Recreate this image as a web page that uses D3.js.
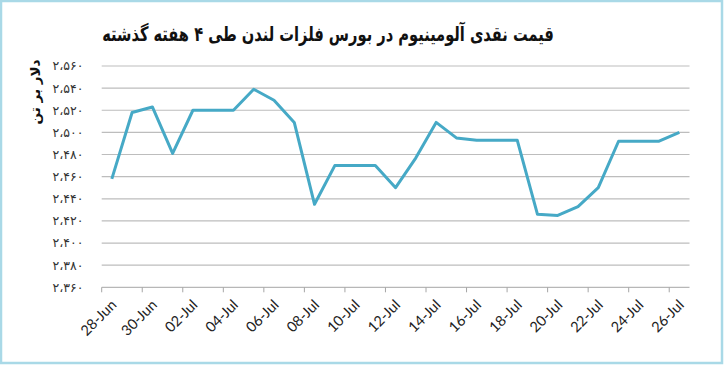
<!DOCTYPE html>
<html>
<head>
<meta charset="utf-8">
<script src="https://cdn.jsdelivr.net/npm/d3@7/dist/d3.min.js"></script>
<style>
  html, body { margin: 0; padding: 0; background: #fff; }
  svg { display: block; }
</style>
</head>
<body>
<svg id="chart" width="724" height="365"></svg>
<script>
// ---- data ----
const categories = [
  "28-Jun","29-Jun","30-Jun","01-Jul","02-Jul","03-Jul","04-Jul","05-Jul","06-Jul","07-Jul",
  "08-Jul","09-Jul","10-Jul","11-Jul","12-Jul","13-Jul","14-Jul","15-Jul","16-Jul","17-Jul",
  "18-Jul","19-Jul","20-Jul","21-Jul","22-Jul","23-Jul","24-Jul","25-Jul","26-Jul"
];
const prices = [
  2458, 2518, 2523, 2481, 2520, 2520, 2520, 2539, 2529, 2509,
  2435, 2470, 2470, 2470, 2450, 2477, 2509, 2495, 2493, 2493,
  2493, 2426, 2425, 2433, 2450, 2492, 2492, 2492, 2500
];
const yTickValues = [2360, 2380, 2400, 2420, 2440, 2460, 2480, 2500, 2520, 2540, 2560];
const yTickLabels = ["۲،۳۶۰","۲،۳۸۰","۲،۴۰۰","۲،۴۲۰","۲،۴۴۰","۲،۴۶۰","۲،۴۸۰","۲،۵۰۰","۲،۵۲۰","۲،۵۴۰","۲،۵۶۰"];
const titleText = "قیمت نقدی آلومینیوم در بورس فلزات لندن طی ۴ هفته گذشته";
const yTitleText = "دلار بر تن";

// ---- layout ----
const W = 724, H = 365;
const plotLeft = 101.7, plotRight = 689.5, plotTop = 66, plotBottom = 287.3;
const svg = d3.select("#chart");

// border
svg.append("rect")
  .attr("x", 1).attr("y", 1).attr("width", W - 3).attr("height", H - 3)
  .attr("fill", "#fff").attr("stroke", "#a9d9e7").attr("stroke-width", 2.5);

const x = d3.scaleBand().domain(categories).range([plotLeft, plotRight]).padding(0);
const y = d3.scaleLinear().domain([2360, 2560]).range([plotBottom, plotTop]);

// gridlines
svg.append("g").selectAll("line")
  .data(yTickValues.filter(v => v !== 2360))
  .join("line")
  .attr("x1", plotLeft).attr("x2", plotRight)
  .attr("y1", d => y(d)).attr("y2", d => y(d))
  .attr("stroke", "#bdbdbd").attr("stroke-width", 1.2);

// y tick labels
svg.append("g").selectAll("text")
  .data(yTickValues)
  .join("text")
  .attr("x", 83.5).attr("y", d => y(d))
  .attr("dy", "0.35em")
  .attr("text-anchor", "end")
  .attr("font-family", "DejaVu Sans, sans-serif")
  .attr("font-size", 12.5)
  .attr("fill", "#333")
  .style("direction", "ltr")
  .text((d, i) => yTickLabels[i]);

// x axis line + ticks
svg.append("line")
  .attr("x1", plotLeft).attr("x2", plotRight)
  .attr("y1", y(2360)).attr("y2", y(2360))
  .attr("stroke", "#a6a6a6").attr("stroke-width", 1);

const tickCats = categories.filter((c, i) => i % 2 === 0);
svg.append("g").selectAll("line")
  .data(tickCats)
  .join("line")
  .attr("x1", d => x(d)).attr("x2", d => x(d))
  .attr("y1", y(2360)).attr("y2", y(2360) + 5)
  .attr("stroke", "#a6a6a6").attr("stroke-width", 1);

// x labels
svg.append("g").selectAll("text")
  .data(tickCats)
  .join("text")
  .attr("transform", d => `translate(${x(d) + x.bandwidth() / 2 + 2},${y(2360) + 15}) rotate(-45)`)
  .attr("text-anchor", "end")
  .attr("dy", "0.35em")
  .attr("font-family", "Lato, sans-serif")
  .attr("font-size", 14.5)
  .attr("fill", "#222")
  .text(d => d);

// line
const line = d3.line()
  .x((d, i) => x(categories[i]) + x.bandwidth() / 2)
  .y(d => y(d));
svg.append("path")
  .datum(prices)
  .attr("d", line)
  .attr("fill", "none")
  .attr("stroke", "#46a9c6")
  .attr("stroke-width", 3)
  .attr("stroke-linejoin", "round");

// title (condensed to the reference width)
const title = svg.append("text")
  .attr("text-anchor", "middle")
  .attr("font-family", "DejaVu Sans, sans-serif")
  .attr("font-weight", "bold")
  .attr("font-size", 20)
  .attr("fill", "#111")
  .text(titleText);
const tw = title.node().getComputedTextLength();
const sx = Math.min(1, 452 / tw);
title.attr("transform", `translate(328,41) scale(${sx},1)`);

// y title
svg.append("text")
  .attr("transform", "translate(35,92) rotate(-90)")
  .attr("text-anchor", "middle")
  .attr("dy", "0.35em")
  .attr("font-family", "DejaVu Sans, sans-serif")
  .attr("font-weight", "bold")
  .attr("font-size", 13.5)
  .attr("fill", "#111")
  .text(yTitleText);
</script>
</body>
</html>
